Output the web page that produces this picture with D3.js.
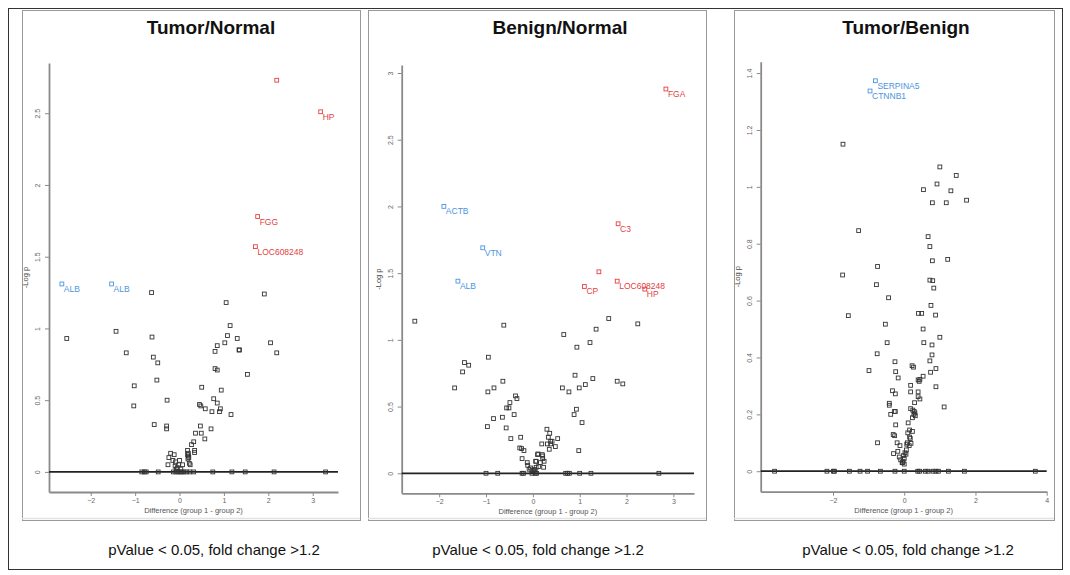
<!DOCTYPE html>
<html><head><meta charset="utf-8">
<script src="https://cdn.jsdelivr.net/npm/d3@7"></script>
<style>
body{margin:0;background:#fff;}
text{font-family:"Liberation Sans",Arial,sans-serif;}
</style>
</head><body>
<svg id="c" width="1070" height="575"></svg>
<script>
// ---------- DATA ----------
const titles = ["Tumor/Normal", "Benign/Normal", "Tumor/Benign"];
const captionText = "pValue < 0.05, fold change >1.2";
const xLabelText = "Difference (group 1 - group 2)";
const yLabelText = "-Log p";

// Tumor/Normal
const tnPoints = [
 [-2.54,0.93],[-1.43,0.98],[-0.62,0.94],[-1.2,0.83],[-0.59,0.8],[-0.49,0.76],[-0.51,0.64],[-1.02,0.6],[-1.03,0.46],
 [-0.28,0.5],[-0.57,0.33],[-0.29,0.32],[-0.29,0.30],[-0.63,1.25],[1.91,1.24],[1.05,1.18],
 [-0.2,0.13],[-0.12,0.12],[-0.24,0.10],[-0.26,0.05],[-0.09,0.07],[-0.15,0.08],[-0.1,0.04],[-0.05,0.03],[-0.02,0.05],
 [0.07,0.05],[0.03,0.02],[-0.07,0.02],[0.0,0.08],
 [1.14,1.02],[1.08,0.95],[1.3,0.93],[1.02,0.9],[0.85,0.88],[0.8,0.84],[1.34,0.85],[1.35,0.85],[2.05,0.9],[2.19,0.83],
 [0.8,0.72],[0.85,0.71],[1.53,0.68],[0.5,0.59],[0.94,0.57],[0.77,0.51],[0.85,0.48],[0.45,0.47],[0.48,0.46],[0.58,0.44],
 [0.92,0.44],[0.73,0.42],[0.9,0.42],[1.16,0.4],[0.47,0.32],[0.71,0.30],[0.36,0.27],[0.49,0.27],[0.57,0.23],[0.32,0.21],
 [0.27,0.19],[0.34,0.15],[0.34,0.135],[0.18,0.15],[0.18,0.12],[0.2,0.11],[0.19,0.09],[0.22,0.06],[0.24,0.05],[0.2,0.13],[0.21,0.10],
 [-0.85,0],[-0.79,0],[-0.75,0],[-0.48,0],[-0.14,0],[-0.08,0],[-0.03,0],[0.02,0],[0.05,0],[0.1,0],[0.16,0],[0.23,0],[0.32,0],
 [0.75,0],[1.18,0],[1.48,0],[2.13,0],[3.29,0]
];
const tnRed = [[2.19,2.73,""],[3.18,2.51,"HP"],[1.76,1.78,"FGG"],[1.71,1.57,"LOC608248"]];
const tnBlue = [[-2.65,1.31,"ALB"],[-1.53,1.31,"ALB"]];
const tnXTicks = [-2,-1,0,1,2,3];
const tnYTicks = [0,0.5,1,1.5,2,2.5];

// Benign/Normal
const bnPoints = [
 [-2.52,1.14],[-0.62,1.11],[-0.95,0.87],[-1.46,0.83],[-1.37,0.81],[-1.5,0.76],[-1.67,0.64],[-0.96,0.61],[-0.83,0.64],
 [-0.64,0.69],[-0.37,0.58],[-0.34,0.56],[-0.49,0.53],[-0.56,0.49],[-0.51,0.49],[-0.4,0.44],[-0.65,0.42],[-0.84,0.41],
 [-0.97,0.35],[-0.57,0.34],[-0.47,0.26],[-0.26,0.27],[-0.28,0.19],[-0.24,0.185],[-0.19,0.17],[-0.23,0.11],[-0.12,0.08],
 [-0.11,0.06],[0.07,0.09],[0.1,0.14],[-0.05,0.04],[-0.02,0.02],[0.03,0.03],[-0.08,0.03],
 [1.62,1.16],[2.24,1.12],[1.35,1.08],[0.66,1.04],[1.22,0.98],[0.94,0.945],[0.9,0.735],[1.28,0.71],[1.8,0.69],[1.92,0.67],
 [1.12,0.665],[0.63,0.64],[0.99,0.64],[0.77,0.61],[0.93,0.48],[0.88,0.44],[1.05,0.38],[0.3,0.33],[0.36,0.3],[0.33,0.27],
 [0.53,0.26],[0.38,0.24],[0.41,0.24],[0.19,0.22],[0.31,0.22],[0.38,0.22],[0.48,0.2],[0.35,0.18],[0.98,0.17],[0.11,0.145],
 [0.2,0.14],[0.21,0.13],[0.21,0.11],[0.16,0.08],[0.24,0.09],[0.06,0.09],[0.12,0.05],[0.23,0.045],[0.07,0.045],[0.02,0.02],[0.05,0.01],
 [-1.0,0],[-0.75,0],[-0.23,0],[-0.2,0],[-0.02,0],[0.05,0],[0.08,0],[0.7,0],[0.74,0],[0.78,0],[1.0,0],[1.24,0],[2.69,0]
];
const bnRed = [[2.84,2.88,"FGA"],[1.82,1.87,"C3"],[1.41,1.51,""],[1.8,1.44,"LOC608248"],[1.1,1.40,"CP"],[2.39,1.38,"HP"]];
const bnBlue = [[-1.9,2.0,"ACTB"],[-1.07,1.69,"VTN"],[-1.6,1.44,"ALB"]];
const bnXTicks = [-2,-1,0,1,2,3];
const bnYTicks = [0,0.5,1,1.5,2,2.5,3];

// Tumor/Benign
const tbPoints = [
 [-1.72,1.15],[-1.28,0.846],[-1.73,0.69],[-0.75,0.72],[-0.78,0.656],[-0.44,0.61],[-1.57,0.547],[-0.53,0.517],[-0.48,0.452],
 [-0.76,0.413],[-0.99,0.354],[-0.26,0.385],[-0.24,0.35],[-0.17,0.328],[-0.33,0.283],[-0.25,0.272],[-0.42,0.239],[-0.42,0.232],
 [-0.38,0.2],[-0.28,0.21],[-0.25,0.21],[-0.24,0.163],[-0.31,0.129],[-0.27,0.125],[-0.2,0.1],[-0.75,0.1],[-0.3,0.062],
 [-0.18,0.07],[-0.14,0.05],[-0.1,0.04],[-0.06,0.03],[-0.12,0.09],
 [1.0,1.07],[1.46,1.04],[0.92,1.01],[0.54,0.99],[1.31,0.986],[1.75,0.953],[0.79,0.944],[1.18,0.944],[0.67,0.825],[0.72,0.79],
 [0.79,0.74],[1.22,0.745],[0.72,0.672],[0.8,0.67],[0.83,0.644],[0.75,0.583],[0.4,0.555],[0.49,0.555],[0.88,0.549],[0.53,0.5],
 [0.55,0.452],[0.78,0.444],[1.0,0.471],[0.78,0.409],[0.72,0.388],[0.22,0.371],[0.26,0.366],[0.89,0.361],[0.74,0.348],
 [0.53,0.334],[0.44,0.323],[0.39,0.321],[0.42,0.316],[0.89,0.297],[0.18,0.302],[0.39,0.279],[0.18,0.279],[0.39,0.262],
 [0.44,0.254],[0.29,0.241],[1.12,0.226],[0.18,0.22],[0.24,0.215],[0.28,0.21],[0.3,0.205],[0.27,0.2],[0.31,0.195],[0.23,0.188],
 [0.11,0.17],[0.15,0.145],[0.23,0.14],[0.1,0.135],[0.15,0.12],[0.17,0.115],[0.09,0.1],[0.19,0.098],[0.07,0.095],[0.14,0.09],
 [0.06,0.075],[0.02,0.065],[0.05,0.06],[-0.02,0.055],[0.0,0.045],[-0.03,0.035],[0.0,0.025],[-0.05,0.03],
 [-3.64,0],[-2.17,0],[-1.99,0],[-1.96,0],[-1.54,0],[-1.24,0],[-1.03,0],[-0.67,0],[-0.26,0],[0.0,0],[0.38,0],[0.43,0],
 [0.59,0],[0.67,0],[0.81,0],[0.89,0],[0.96,0],[1.24,0],[1.69,0],[3.68,0]
];
const tbRed = [];
const tbBlue = [[-0.81,1.373,"SERPINA5"],[-0.96,1.337,"CTNNB1"]];
const tbXTicks = [-2,0,2,4];
const tbYTicks = [0,0.2,0.4,0.6,0.8,1,1.2,1.4];

// ---------- LAYOUT ----------
const panels = [
 {title:titles[0], pts:tnPoints, red:tnRed, blue:tnBlue, xt:tnXTicks, yt:tnYTicks,
  xd:[-2.94,3.57], yd:[-0.14,2.85], plot:{l:49,r:338,t:63,b:492}, box:[22,10,360,520], cx:211, capx:214},
 {title:titles[1], pts:bnPoints, red:bnRed, blue:bnBlue, xt:bnXTicks, yt:bnYTicks,
  xd:[-2.8,3.44], yd:[-0.15,3.06], plot:{l:401.7,r:694,t:65,b:493.3}, box:[368,10,706,520], cx:560, capx:538},
 {title:titles[2], pts:tbPoints, red:tbRed, blue:tbBlue, xt:tbXTicks, yt:tbYTicks,
  xd:[-4.03,4.0], yd:[-0.072,1.44], plot:{l:760.7,r:1046.7,t:61.7,b:491.7}, box:[734,10,1054,520], cx:906, capx:908}
];

const svg = d3.select("#c");
svg.append("rect").attr("x",8.5).attr("y",8.5).attr("width",1054).attr("height",561)
  .attr("fill","none").attr("stroke","#333").attr("stroke-width",1);

const RED = "#e4403f", BLUE = "#4a95e0", PT = "#333";
const S = 3.8;

panels.forEach(p => {
  const g = svg.append("g");
  const [bx0,by0,bx1,by1] = p.box;
  g.append("rect").attr("x",bx0+0.5).attr("y",by0+0.5).attr("width",bx1-bx0).attr("height",by1-by0)
    .attr("fill","#fff").attr("stroke","#999").attr("stroke-width",1);
  g.append("line").attr("x1",bx0).attr("x2",bx1).attr("y1",518.5).attr("y2",518.5)
    .attr("stroke","#e2e2e2").attr("stroke-width",1.5);

  g.append("text").attr("x",p.cx).attr("y",34).attr("text-anchor","middle")
    .attr("font-size",19).attr("font-weight","bold").attr("fill","#111").text(p.title);
  g.append("text").attr("x",p.capx).attr("y",555).attr("text-anchor","middle")
    .attr("font-size",15).attr("fill","#111").text(captionText);

  const x = d3.scaleLinear().domain(p.xd).range([p.plot.l,p.plot.r]);
  const y = d3.scaleLinear().domain(p.yd).range([p.plot.b,p.plot.t]);

  const ya = g.append("g").attr("transform",`translate(${p.plot.l},0)`)
    .call(d3.axisLeft(y).tickValues(p.yt).tickSize(4).tickSizeOuter(0).tickFormat(d3.format("")));
  ya.select(".domain").attr("stroke","#8a8a8a").attr("stroke-width",1.8);
  ya.selectAll(".tick line").attr("stroke","#8a8a8a");
  ya.selectAll(".tick text").attr("font-size",7).attr("fill","#666").attr("font-family","Liberation Sans, Arial")
    .attr("text-anchor","middle").attr("x",0).attr("dy",0)
    .attr("transform","translate(-9,0) rotate(-90)");

  const xa = g.append("g").attr("transform",`translate(0,${p.plot.b})`)
    .call(d3.axisBottom(x).tickValues(p.xt).tickSize(4).tickSizeOuter(0).tickFormat(d3.format("")));
  xa.select(".domain").attr("stroke","#8a8a8a").attr("stroke-width",1.8);
  xa.selectAll(".tick line").attr("stroke","#8a8a8a");
  xa.selectAll(".tick text").attr("font-size",7).attr("fill","#666").attr("font-family","Liberation Sans, Arial").attr("y",6);

  g.append("text").attr("x",(p.plot.l+p.plot.r)/2).attr("y",p.plot.b+21).attr("text-anchor","middle")
    .attr("font-size",7.5).attr("fill","#555").text(xLabelText);
  const ycx = p.plot.l-21, ycy = (p.plot.t+p.plot.b)/2;
  g.append("text").attr("transform",`translate(${ycx},${ycy}) rotate(-90)`).attr("text-anchor","middle")
    .attr("font-size",7.5).attr("fill","#444").text(yLabelText);

  // zero line
  g.append("line").attr("x1",x.range()[0]).attr("x2",x.range()[1]).attr("y1",y(0)).attr("y2",y(0))
    .attr("stroke","#222").attr("stroke-width",1.8);

  g.selectAll("rect.pt").data(p.pts).join("rect").attr("class","pt")
    .attr("x",d=>x(d[0])-S/2).attr("y",d=>y(d[1])-S/2).attr("width",S).attr("height",S)
    .attr("fill","none").attr("stroke",PT).attr("stroke-width",0.9);

  [[p.red,RED],[p.blue,BLUE]].forEach(([arr,col]) => {
    g.selectAll(null).data(arr).join("rect")
      .attr("x",d=>x(d[0])-S/2).attr("y",d=>y(d[1])-S/2).attr("width",S).attr("height",S)
      .attr("fill","none").attr("stroke",col).attr("stroke-width",0.9);
    g.selectAll(null).data(arr).join("text")
      .attr("x",d=>x(d[0])+2).attr("y",d=>y(d[1])+8)
      .attr("font-size",8.5).attr("fill",col).text(d=>d[2]);
  });
});
</script>
</body></html>
